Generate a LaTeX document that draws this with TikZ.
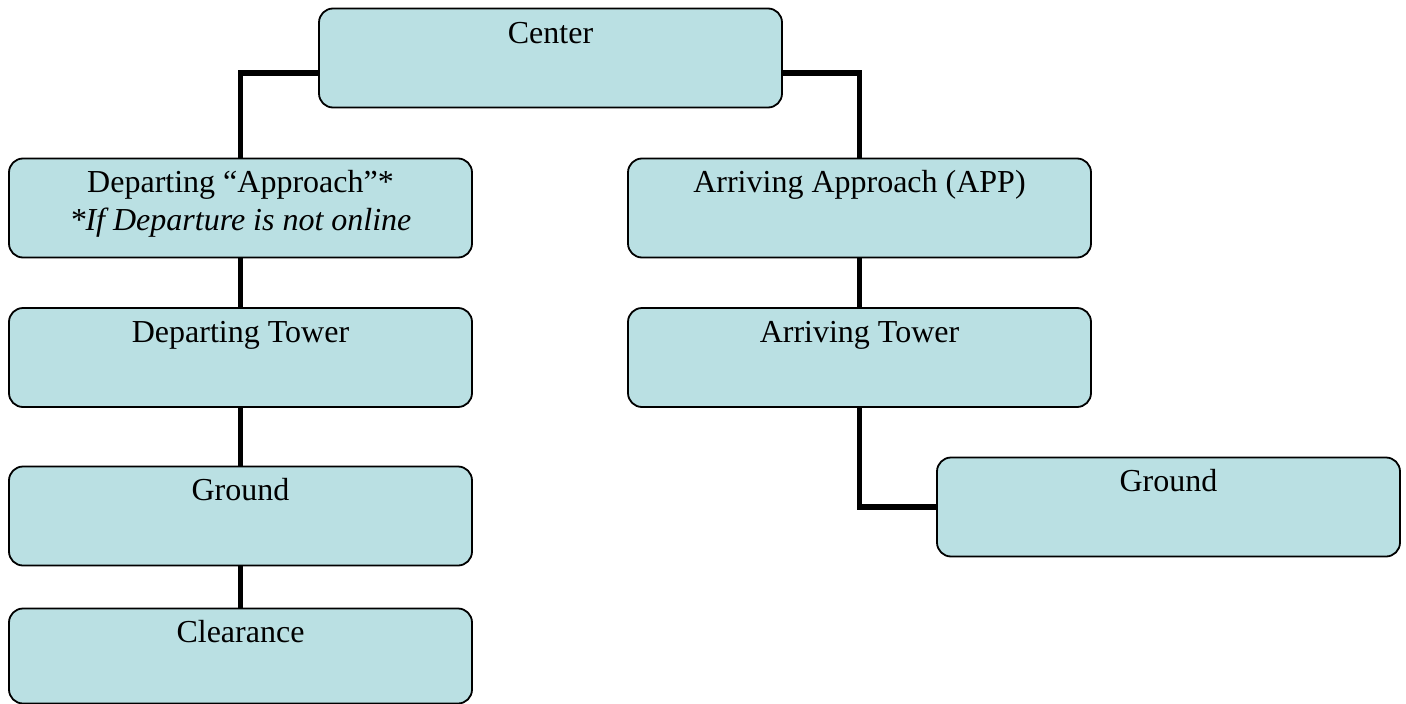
\documentclass[tikz,border=0pt]{standalone}
\usepackage{fontspec}
\setmainfont{Liberation Serif}
\definecolor{boxfill}{RGB}{186,224,227}
\begin{document}
\begin{tikzpicture}[x=1pt,y=-1pt,
  box/.style={draw=black,line width=1.8pt,rounded corners=14pt,fill=boxfill,
    minimum width=463pt,minimum height=99pt,inner sep=0pt},
  lbl/.style={anchor=base,font=\fontsize{32}{38}\selectfont,inner sep=0pt},
  conn/.style={draw=black,line width=5.5pt}]
\useasboundingbox (0,0) rectangle (1406,704);
% boxes
\node[box] (center) at (550.5,58) {};
\node[box] (depapp) at (240.5,208) {};
\node[box] (arrapp) at (859.5,208) {};
\node[box] (deptow) at (240.5,357.5) {};
\node[box] (arrtow) at (859.5,357.5) {};
\node[box] (gndL) at (240.5,516) {};
\node[box] (gndR) at (1168.5,507) {};
\node[box,minimum height=95pt] (clr) at (240.5,656) {};
% labels
\node[lbl] (tcenter) at ([yshift=-36pt]center.north) {Center};
\node[lbl] (tdepapp) at ([yshift=-35pt]depapp.north) {Departing “Approach”*};
\node[lbl] (tdepapp2) at ([yshift=-73pt]depapp.north) {\itshape *If Departure is not online};
\node[lbl] (tarrapp) at ([yshift=-35pt]arrapp.north) {Arriving Approach (APP)};
\node[lbl] (tdeptow) at ([yshift=-35pt]deptow.north) {Departing Tower};
\node[lbl] (tarrtow) at ([yshift=-35pt]arrtow.north) {Arriving Tower};
\node[lbl] (tgndL) at ([yshift=-35pt]gndL.north) {Ground};
\node[lbl] (tgndR) at ([yshift=-35pt]gndR.north) {Ground};
\node[lbl] (tclr) at ([yshift=-35pt]clr.north) {Clearance};
% connectors
\coordinate (cl) at ([yshift=-15pt]center.west);
\coordinate (cr) at ([yshift=-15pt]center.east);
\draw[conn] (cl) -| (depapp.north);
\draw[conn] (cr) -| (arrapp.north);
\draw[conn] (depapp.south) -- (deptow.north);
\draw[conn] (deptow.south) -- (gndL.north);
\draw[conn] (gndL.south) -- (clr.north);
\draw[conn] (arrapp.south) -- (arrtow.north);
\draw[conn] (arrtow.south) |- (gndR.west);
\end{tikzpicture}
\end{document}
